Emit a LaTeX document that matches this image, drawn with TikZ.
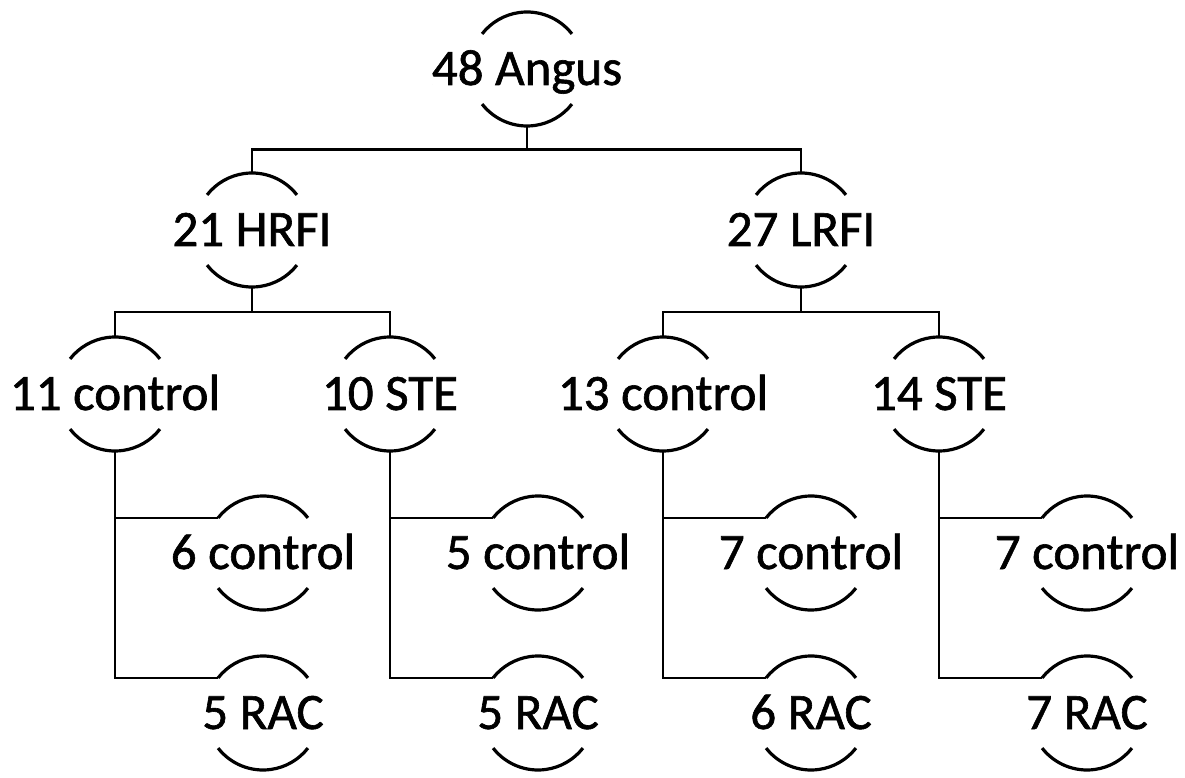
\documentclass[tikz,border=0pt]{standalone}
\usepackage{fontspec}
\setmainfont[FakeBold=1.2]{Carlito}
\usetikzlibrary{calc}
\newcommand\zw[1]{\makebox[0pt]{#1}}
\begin{document}
\begin{tikzpicture}[x=1pt,y=1pt,
  lbl/.style={circle, minimum size=114pt, inner sep=0pt, outer sep=0pt,
    text height=32pt, text depth=0pt,
    font=\fontsize{51}{60}\selectfont},
  arcline/.style={line width=3.2pt},
  conn/.style={line width=2.8pt}]
\useasboundingbox (0,0) rectangle (1185,777);
% nodes
\node[lbl] (A)  at (527,708) {\zw{48 Angus}};
\node[lbl] (H)  at (252,547) {\zw{21 HRFI}};
\node[lbl] (L)  at (801,547) {\zw{27 LRFI}};
\node[lbl] (C1) at (115,383) {\zw{11 control}};
\node[lbl] (S1) at (390,383) {\zw{10 STE}};
\node[lbl] (C2) at (663,383) {\zw{13 control}};
\node[lbl] (S2) at (939,383) {\zw{14 STE}};
\node[lbl] (C1c) at (263,224) {\zw{6 control}};
\node[lbl] (C1r) at (263,64) {\zw{5 RAC}};
\node[lbl] (S1c) at (538,224) {\zw{5 control}};
\node[lbl] (S1r) at (538,64) {\zw{5 RAC}};
\node[lbl] (C2c) at (811,224) {\zw{7 control}};
\node[lbl] (C2r) at (811,64) {\zw{6 RAC}};
\node[lbl] (S2c) at (1087,224) {\zw{7 control}};
\node[lbl] (S2r) at (1087,64) {\zw{7 RAC}};
% arcs
\foreach \n in {A,H,L,C1,S1,C2,S2,C1c,C1r,S1c,S1r,C2c,C2r,S2c,S2r}{
  \draw[arcline] (\n.38) arc[start angle=38,end angle=142,radius=57pt];
  \draw[arcline] (\n.218) arc[start angle=218,end angle=322,radius=57pt];
}
% connectors
\coordinate (j0) at ($(A.south)!0.5!(A.south |- H.north)$);
\draw[conn] (A.south) -- (j0);
\draw[conn] (H.north) |- (j0) -| (L.north);
\coordinate (j1) at ($(H.south)!0.5!(H.south |- C1.north)$);
\draw[conn] (H.south) -- (j1);
\draw[conn] (C1.north) |- (j1) -| (S1.north);
\coordinate (j2) at ($(L.south)!0.5!(L.south |- C2.north)$);
\draw[conn] (L.south) -- (j2);
\draw[conn] (C2.north) |- (j2) -| (S2.north);
\foreach \p in {C1,S1,C2,S2}{
  \draw[conn] (\p.south) |- (\p c.142);
  \draw[conn] (\p.south) |- (\p r.142);
}
\end{tikzpicture}
\end{document}
